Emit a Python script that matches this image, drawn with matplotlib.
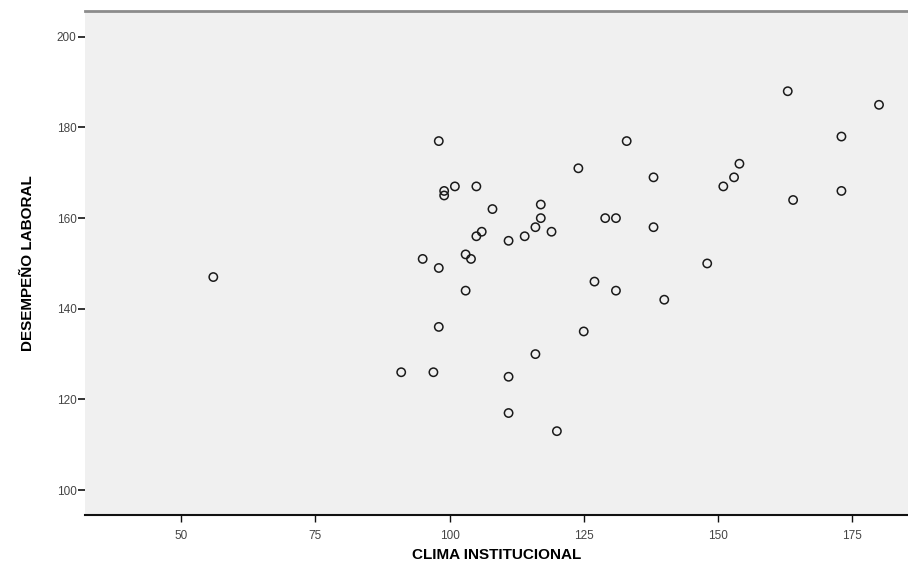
import matplotlib
matplotlib.use("Agg")
import matplotlib.pyplot as plt

# scatter data
clima = [56, 98, 99, 99, 101, 105, 108, 117, 117, 116, 114, 119, 111, 105, 106,
         103, 104, 98, 95, 103, 124, 133, 138, 138, 129, 131, 127, 131, 140, 148,
         151, 153, 154, 163, 164, 173, 173, 180, 98, 125, 116, 111, 111, 120, 91, 97]
desempeno = [147, 177, 166, 165, 167, 167, 162, 163, 160, 158, 156, 157, 155, 156, 157,
             152, 151, 149, 151, 144, 171, 177, 169, 158, 160, 160, 146, 144, 142, 150,
             167, 169, 172, 188, 164, 178, 166, 185, 136, 135, 130, 125, 117, 113, 126, 126]

xticks = [50, 75, 100, 125, 150, 175]
yticks = [100, 120, 140, 160, 180, 200]

plt.rcParams['font.family'] = ['Liberation Sans', 'DejaVu Sans']

fig = plt.figure(figsize=(9.08, 5.67), dpi=100)
ax = fig.add_axes([0.0936, 0.0917, 0.9064, 0.8889])
ax.set_facecolor('#f0f0f0')

ax.scatter(clima, desempeno, s=36, facecolors='none', edgecolors='#1a1a1a', linewidths=1.1)

ax.set_xlim(32.1, 185.4)
ax.set_ylim(94.5, 205.7)
ax.set_xticks(xticks)
ax.set_yticks(yticks)
ax.tick_params(axis='both', labelsize=8.5, colors='#111111', labelcolor='#444444')
ax.tick_params(axis='y', length=5, width=1.2, pad=1)
ax.tick_params(axis='x', length=5, width=1.0, pad=6)

ax.spines['left'].set_visible(False)
ax.spines['right'].set_visible(False)
ax.spines['top'].set_color('#8c8c8c')
ax.spines['top'].set_linewidth(2)
ax.spines['bottom'].set_color('#111111')
ax.spines['bottom'].set_linewidth(1.5)

ax.set_xlabel('CLIMA INSTITUCIONAL', fontsize=11, fontweight='bold', labelpad=4)
ax.set_ylabel('DESEMPEÑO LABORAL', fontsize=11, fontweight='bold', labelpad=16)

fig.savefig('out.png', dpi=100)
